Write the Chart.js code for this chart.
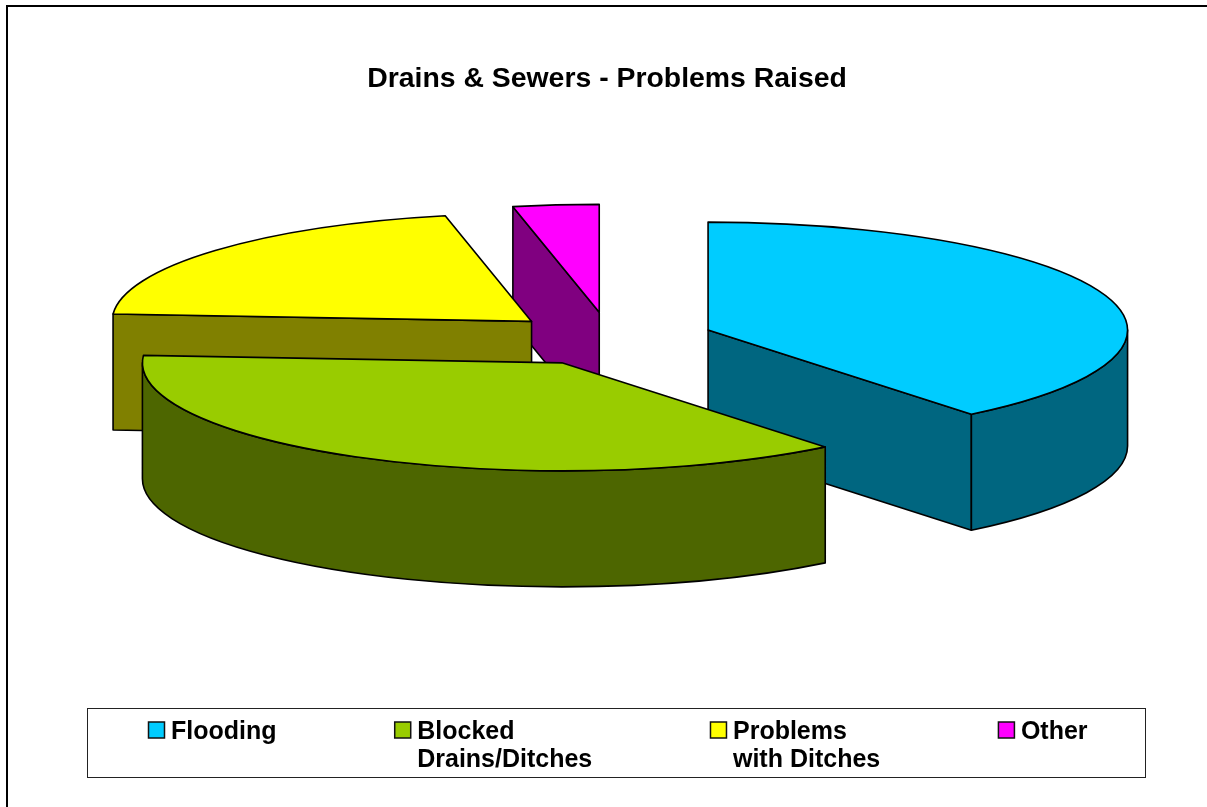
<!DOCTYPE html>
<html>
<head>
<meta charset="utf-8">
<title>Drains & Sewers - Problems Raised</title>
<script src="https://cdn.jsdelivr.net/npm/chart.js@4/dist/chart.umd.js"></script>
<style>
  html, body { margin: 0; padding: 0; background: #fff; overflow: hidden; }
  canvas { display: block; }
</style>
</head>
<body>
<canvas id="js_pie_chart" width="1207" height="807"></canvas>
<script>
// data (share of problems raised, %)
var categories = ["Flooding", "Blocked Drains/Ditches", "Problems with Ditches", "Other"];
var legend_lines = [["Flooding"], ["Blocked", "Drains/Ditches"], ["Problems", "with Ditches"], ["Other"]];
var values = [39.2, 36.9, 20.6, 3.3];

var top_colors = ["#00CCFF", "#99CC00", "#FFFF00", "#FF00FF"];
var side_colors = ["#006680", "#4D6600", "#808000", "#800080"];

// back to front, so nearer slices cover the ones behind them
var draw_order = [3, 2, 0, 1];

var tilt = 0.258;      // how much the circle is squashed
var depth = 116;       // height of the pie wall
var explode = 104;     // how far every slice is pulled out
var pie_shift = 3;     // pie sits a little right of the title
var font_family = "'Liberation Sans', Arial, sans-serif";

// the library lays out the arcs, this only tilts them and adds the walls
var pie3d = {
    id: 'pie3d',
    beforeDatasetsDraw: function(chart) {
        var ctx = chart.ctx;
        var arcs = chart.getDatasetMeta(0).data;
        draw_order.forEach(function(i) {
            drawSlice(ctx, arcs[i], side_colors[i]);
        });
        return false;
    }
};

function drawSlice(ctx, arc, side_color) {
    var a0 = arc.startAngle, a1 = arc.endAngle;
    var mid = (a0 + a1) / 2;
    var rx = arc.outerRadius, ry = 108;
    var cx = arc.x + pie_shift + Math.cos(mid) * explode;
    var cy = arc.y + Math.sin(mid) * explode * tilt;

    ctx.save();
    ctx.lineWidth = 1.6;
    ctx.strokeStyle = "#000";
    ctx.lineJoin = "round";
    ctx.fillStyle = side_color;

    // cut faces, only the ones turned to the viewer
    if (Math.cos(a0) < -0.001) cutFace(ctx, cx, cy, rx, ry, a0);
    if (Math.cos(a1) > 0.001) cutFace(ctx, cx, cy, rx, ry, a1);

    // outer wall, the part of the rim on the near side
    var s = Math.max(a0, 0), e = Math.min(a1, Math.PI);
    if (e > s) {
        ctx.beginPath();
        ctx.ellipse(cx, cy, rx, ry, 0, s, e);
        ctx.ellipse(cx, cy + depth, rx, ry, 0, e, s, true);
        ctx.closePath();
        ctx.fill();
        ctx.stroke();
    }

    // top face is the library's own arc element
    ctx.save();
    ctx.translate(cx, cy);
    ctx.scale(1, ry / rx);
    ctx.translate(-arc.x, -arc.y);
    arc.draw(ctx);
    ctx.restore();

    ctx.beginPath();
    ctx.moveTo(cx, cy);
    ctx.ellipse(cx, cy, rx, ry, 0, a0, a1);
    ctx.closePath();
    ctx.stroke();
    ctx.restore();
}

function cutFace(ctx, cx, cy, rx, ry, a) {
    var px = cx + Math.cos(a) * rx;
    var py = cy + Math.sin(a) * ry;
    ctx.beginPath();
    ctx.moveTo(cx, cy);
    ctx.lineTo(px, py);
    ctx.lineTo(px, py + depth);
    ctx.lineTo(cx, cy + depth);
    ctx.closePath();
    ctx.fill();
    ctx.stroke();
}

// the built in legend can't space two line labels properly
var box_legend = {
    id: 'box_legend',
    afterDraw: function(chart) {
        var ctx = chart.ctx;
        var gap = 118.2, swatch = 16, text_offset = 22.5, line_height = 28;
        ctx.save();

        // page frame
        ctx.strokeStyle = "#000";
        ctx.lineWidth = 2;
        ctx.beginPath();
        ctx.moveTo(7, 807);
        ctx.lineTo(7, 6);
        ctx.lineTo(1207, 6);
        ctx.stroke();

        // legend frame
        ctx.lineWidth = 1;
        ctx.strokeStyle = "#222";
        ctx.strokeRect(87.5, 708.5, 1058, 69);

        ctx.font = "bold 25px " + font_family;
        ctx.textBaseline = "alphabetic";
        var x = 148.5;
        legend_lines.forEach(function(lines, i) {
            ctx.fillStyle = top_colors[i];
            ctx.fillRect(x, 722, swatch, swatch);
            ctx.strokeStyle = "#111";
            ctx.lineWidth = 1.5;
            ctx.strokeRect(x, 722, swatch, swatch);

            var widest = 0;
            ctx.fillStyle = "#000";
            lines.forEach(function(line, n) {
                ctx.fillText(line, x + text_offset, 739 + n * line_height);
                widest = Math.max(widest, ctx.measureText(line).width);
            });
            x += text_offset + widest + gap;
        });
        ctx.restore();
    }
};

var pie_chart = new Chart(document.getElementById("js_pie_chart"), {
    type: 'pie',
    data: {
        labels: categories,
        datasets: [{
            data: values,
            backgroundColor: top_colors,
            borderWidth: 0,
            radius: 419.5
        }]
    },
    options: {
        responsive: false,
        animation: false,
        layout: { padding: { left: 7, right: 0, top: 0, bottom: 225 } },
        plugins: {
            legend: { display: false },
            tooltip: { enabled: false },
            title: {
                display: true,
                text: "Drains & Sewers - Problems Raised",
                color: "#000",
                font: { family: font_family, size: 28.4, weight: 'bold' },
                padding: { top: 62, bottom: 0 }
            }
        }
    },
    plugins: [pie3d, box_legend]
});
</script>
</body>
</html>
